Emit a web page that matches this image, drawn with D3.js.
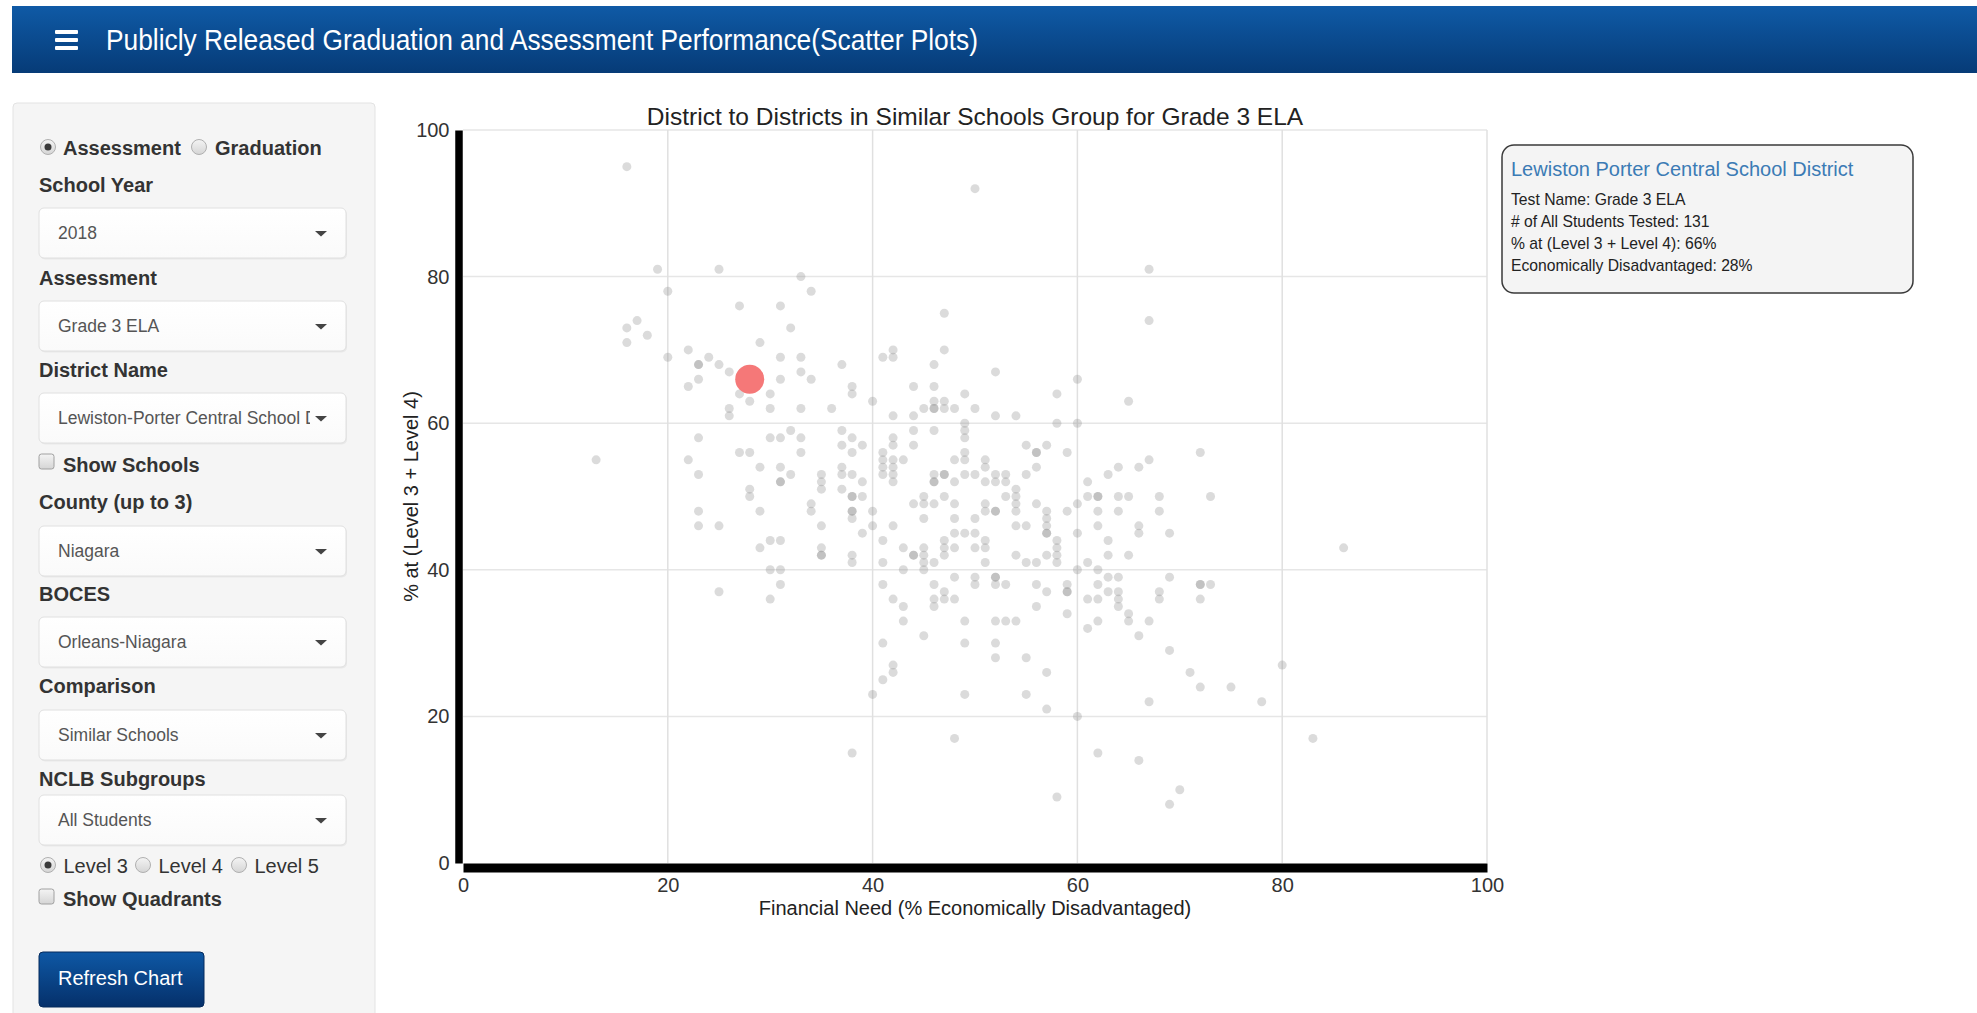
<!DOCTYPE html>
<html><head><meta charset="utf-8">
<script src="https://cdn.jsdelivr.net/npm/d3@7"></script>
<style>
html,body{margin:0;padding:0;background:#fff;overflow:hidden;}
svg text{font-family:"Liberation Sans",Arial,Helvetica,sans-serif;}
</style></head>
<body>
<svg id="page" width="1977" height="1013"></svg>
<script>
// ---------- data ----------
const pageTitle = "Publicly Released Graduation and Assessment Performance(Scatter Plots)";
const chartTitle = "District to Districts in Similar Schools Group for Grade 3 ELA";
const xAxisLabel = "Financial Need (% Economically Disadvantaged)";
const yAxisLabel = "% at (Level 3 + Level 4)";
const xTicks = [0, 20, 40, 60, 80, 100];
const yTicks = [0, 20, 40, 60, 80, 100];

// [% economically disadvantaged, % at level 3 + level 4] for each district in the group
const districtPoints = [
[16,95],[19,81],[20,78],[17,74],[16,73],[18,72],[16,71],[20,69],[13,55],
[50,92],[67,81],[67,74],[47,75],[47,70],[52,67],[60,66],[49,64],[58,64],[65,63],
[25,81],[33,80],[34,78],[27,76],[31,76],[32,73],[29,71],[22,70],[24,69],[31,69],[33,69],[23,68],[23,68],[25,68],[37,68],[41,69],[42,69],[42,70],[46,68],[26,67],[33,67],[22,65],[23,66],[31,66],[34,66],[27,64],[28,63],[30,64],[26,62],[26,61],[30,62],[33,62],[36,62],[38,65],[38,64],[40,63],[42,61],[44,65],[44,61],[45,62],[46,65],[46,63],[46,62],[46,62],[44,59],[46,59],[44,57],[23,58],[30,58],[31,58],[32,59],[33,58],[37,59],[37,57],[38,58],[39,57],[38,56],[41,56],[42,58],[42,57],[22,55],[27,56],[28,56],[33,56],[29,54],[31,54],[23,53],[32,53],[31,52],[31,52],[35,53],[35,52],[35,51],[37,54],[37,53],[38,53],[37,51],[39,52],[38,50],[38,50],[39,50],[28,51],[28,50],[41,55],[42,55],[43,55],[41,54],[42,54],[41,53],[42,53],[42,52],[46,53],[46,52],[45,50],[44,49],[46,49],[23,48],[29,48],[34,49],[34,48],[38,48],[38,48],[40,48],[45,47],
[47,62],[47,63],[48,62],[50,62],[52,61],[54,61],[49,60],[49,59],[49,58],[58,60],[60,60],[55,57],[56,56],[56,56],[57,57],[59,56],[49,56],[49,55],[48,55],[51,55],[51,54],[56,54],[46,52],[47,53],[47,53],[48,52],[49,53],[50,53],[51,52],[52,53],[52,52],[53,53],[53,52],[55,53],[54,51],[54,50],[54,49],[54,48],[53,50],[47,50],[48,49],[51,49],[51,48],[52,48],[52,48],[56,49],[57,48],[59,48],[60,49],[61,52],[61,50],[62,50],[62,50],[64,50],[65,50],[63,53],[64,54],[66,54],[67,55],[62,48],[64,48],[68,50],[68,48],[72,56],[73,50],[45,49],
[23,46],[25,46],[30,44],[31,44],[29,43],[30,40],[31,40],[31,38],[30,36],[25,37],[35,46],[35,43],[35,42],[35,42],[38,47],[39,45],[40,46],[38,42],[38,41],[41,44],[42,46],[43,43],[44,42],[44,42],[45,43],[45,42],[45,41],[45,40],[41,41],[43,40],[46,41],[41,38],[42,36],[43,35],[43,33],[46,38],[46,36],[46,35],[45,31],[41,30],[42,27],[42,26],[41,25],[40,23],[38,15],
[48,47],[50,47],[57,47],[57,46],[57,45],[57,45],[54,46],[55,46],[48,45],[49,45],[50,45],[60,45],[62,46],[66,46],[66,45],[69,45],[47,44],[47,43],[47,42],[48,43],[50,43],[51,44],[51,43],[51,41],[54,42],[55,41],[56,41],[57,42],[58,44],[58,43],[58,42],[58,41],[61,41],[63,44],[63,42],[65,42],[47,37],[47,36],[48,39],[48,36],[50,39],[50,38],[52,39],[52,39],[52,38],[53,38],[56,38],[57,37],[59,38],[59,37],[59,37],[59,34],[56,35],[60,40],[61,36],[62,40],[62,38],[62,36],[62,33],[63,39],[63,37],[64,39],[64,37],[64,36],[64,35],[65,34],[65,33],[61,32],[66,31],[67,33],[68,37],[68,36],[69,39],[69,29],[49,33],[52,33],[53,33],[54,33],[49,30],[52,30],[52,28],[55,28],[57,26],[49,23],[55,23],[57,21],[60,20],[67,22],[48,17],[62,15],[66,14],[58,9],[69,8],[70,10],[71,26],[72,24],
[86,43],[72,38],[72,38],[73,38],[72,36],[80,27],[75,24],[78,22],[83,17]
];

// the selected district
const focusName = "Lewiston Porter Central School District";
const focusNeed = [28];
const focusProficiency = [66];
const focusInfoLines = [
  "Test Name: Grade 3 ELA",
  "# of All Students Tested: 131",
  "% at (Level 3 + Level 4): 66%",
  "Economically Disadvantaged: 28%"
];

// sidebar form
const sidebarLabels = ["School Year","Assessment","District Name","County (up to 3)","BOCES","Comparison","NCLB Subgroups"];
const sidebarValues = ["2018","Grade 3 ELA","Lewiston-Porter Central School District","Niagara","Orleans-Niagara","Similar Schools","All Students"];
const modeOptions = ["Assessment","Graduation"];
const levelOptions = ["Level 3","Level 4","Level 5"];

// ---------- drawing ----------
const svg = d3.select("#page");
const defs = svg.append("defs");

function vGrad(id, c1, c2){
  const g = defs.append("linearGradient").attr("id", id).attr("x1",0).attr("y1",0).attr("x2",0).attr("y2",1);
  g.append("stop").attr("offset","0%").attr("stop-color",c1);
  g.append("stop").attr("offset","100%").attr("stop-color",c2);
}
vGrad("hdrGrad", "#0f5aa6", "#063b77");
vGrad("btnGrad", "#0e58a5", "#05306a");
vGrad("radioGrad", "#f4f4f4", "#d5d5d5");
vGrad("selGrad", "#ffffff", "#fafafa");

// header
svg.append("rect").attr("x",12).attr("y",6).attr("width",1965).attr("height",67).attr("fill","url(#hdrGrad)");
[30, 38, 46].forEach(yy => {
  svg.append("rect").attr("x",55).attr("y",yy).attr("width",23).attr("height",4).attr("rx",1).attr("fill","#fff");
});
svg.append("text").attr("x",106).attr("y",50).attr("fill","#fff").attr("font-size",29)
  .attr("textLength",872).attr("lengthAdjust","spacingAndGlyphs").text(pageTitle);

// sidebar panel
svg.append("rect").attr("x",13).attr("y",103).attr("width",362).attr("height",940).attr("rx",4)
  .attr("fill","#f5f5f5").attr("stroke","#e3e3e3").attr("stroke-width",1);

function radio(cx, cy, checked){
  svg.append("circle").attr("cx",cx).attr("cy",cy).attr("r",7.5).attr("fill","url(#radioGrad)").attr("stroke","#b0b0b0");
  if (checked) svg.append("circle").attr("cx",cx).attr("cy",cy).attr("r",3.5).attr("fill","#3a3a3a");
}
function checkbox(x, y){
  svg.append("rect").attr("x",x).attr("y",y).attr("width",15).attr("height",15).attr("rx",2.5)
    .attr("fill","url(#radioGrad)").attr("stroke","#a0a0a0");
}
const labelStyle = s => s.attr("font-size",20).attr("font-weight","bold").attr("fill","#333");

// mode radios
radio(48,147,true);
labelStyle(svg.append("text").attr("x",63).attr("y",155).text(modeOptions[0]));
radio(199,147,false);
labelStyle(svg.append("text").attr("x",215).attr("y",155).text(modeOptions[1]));

const labelBase = [192,285,377,509,601,693,786];
const selectTop = [208,301,393,526,617,710,795];
defs.append("clipPath").attr("id","selClip").append("rect").attr("x",39).attr("y",0).attr("width",271).attr("height",1013);
sidebarLabels.forEach((lab,i) => {
  labelStyle(svg.append("text").attr("x",39).attr("y",labelBase[i]).text(lab));
  const top = selectTop[i];
  svg.append("rect").attr("x",40).attr("y",top+1.5).attr("width",307).attr("height",50).attr("rx",5).attr("fill","#e9e9e9");
  svg.append("rect").attr("x",39).attr("y",top).attr("width",307).attr("height",50).attr("rx",5)
    .attr("fill","url(#selGrad)").attr("stroke","#e0e0e0");
  svg.append("text").attr("x",58).attr("y",top+31).attr("font-size",17.5).attr("fill","#555")
    .attr("clip-path","url(#selClip)").text(sidebarValues[i]);
  svg.append("path").attr("d",`M315,${top+23}L327,${top+23}L321,${top+28.5}Z`).attr("fill","#444");
});

// show schools checkbox
checkbox(39,454);
labelStyle(svg.append("text").attr("x",63).attr("y",472).text("Show Schools"));

// level radios
const levelX = [48,143,239];
levelOptions.forEach((lv,i) => {
  radio(levelX[i],865,i===0);
  svg.append("text").attr("x",levelX[i]+15.5).attr("y",873).attr("font-size",20).attr("fill","#333").text(lv);
});
checkbox(39,889);
labelStyle(svg.append("text").attr("x",63).attr("y",906).text("Show Quadrants"));

// button
svg.append("rect").attr("x",39).attr("y",952).attr("width",165).attr("height",55).attr("rx",4)
  .attr("fill","url(#btnGrad)").attr("stroke","#042a5c");
svg.append("text").attr("x",58).attr("y",985).attr("font-size",20).attr("fill","#fff").text("Refresh Chart");

// ---------- chart ----------
const x = d3.scaleLinear().domain([0,100]).range([463,1487]);
const y = d3.scaleLinear().domain([0,100]).range([863,130]);

const grid = svg.append("g");
grid.selectAll("line.h").data(yTicks.filter(t=>t>0)).join("line").attr("class","h")
  .attr("x1",x(0)).attr("x2",x(100)).attr("y1",d=>y(d)).attr("y2",d=>y(d))
  .attr("stroke","#e6e6e6").attr("stroke-width",1.5);
grid.selectAll("line.v").data(xTicks.filter(t=>t>0)).join("line").attr("class","v")
  .attr("y1",y(0)).attr("y2",y(100)).attr("x1",d=>x(d)).attr("x2",d=>x(d))
  .attr("stroke","#e0e0e0").attr("stroke-width",1.5);

const yAxis = svg.append("g").attr("transform","translate(458.5,0)")
  .call(d3.axisLeft(y).tickValues(yTicks).tickSize(0).tickSizeOuter(0).tickPadding(9));
yAxis.select(".domain").attr("stroke","#000").attr("stroke-width",7.5);
yAxis.selectAll("text").attr("font-size",20).attr("fill","#333").attr("font-family","Liberation Sans, Arial, sans-serif");

const xAxis = svg.append("g").attr("transform","translate(0,867.5)")
  .call(d3.axisBottom(x).tickValues(xTicks).tickSize(0).tickSizeOuter(0).tickPadding(10));
xAxis.select(".domain").attr("stroke","#000").attr("stroke-width",9);
xAxis.selectAll("text").attr("font-size",20).attr("fill","#333").attr("font-family","Liberation Sans, Arial, sans-serif");

svg.append("text").attr("x",975).attr("y",125).attr("text-anchor","middle").attr("font-size",24.5)
  .attr("fill","#222").text(chartTitle);
svg.append("text").attr("x",975).attr("y",915).attr("text-anchor","middle").attr("font-size",20)
  .attr("fill","#222").text(xAxisLabel);
svg.append("text").attr("transform","translate(418,496.5) rotate(-90)").attr("text-anchor","middle")
  .attr("font-size",20).attr("fill","#222").text(yAxisLabel);

// dots
svg.append("g").selectAll("circle").data(districtPoints).join("circle")
  .attr("cx",d=>x(d[0])).attr("cy",d=>y(d[1])).attr("r",4.5)
  .attr("fill","#8a8a8a").attr("fill-opacity",0.31);

svg.append("g").selectAll("circle").data(focusNeed).join("circle")
  .attr("cx",(d,i)=>x(d)).attr("cy",(d,i)=>y(focusProficiency[i])).attr("r",14.5)
  .attr("fill","#f57878");

// info box
svg.append("rect").attr("x",1502).attr("y",145).attr("width",411).attr("height",148).attr("rx",12)
  .attr("fill","#f4f4f4").attr("stroke","#3a3a3a").attr("stroke-width",1.5);
svg.append("text").attr("x",1511).attr("y",176).attr("font-size",20).attr("fill","#3b7bb5").text(focusName);
svg.append("g").selectAll("text").data(focusInfoLines).join("text")
  .attr("x",1511).attr("y",(d,i)=>205+i*22).attr("font-size",15.7).attr("fill","#222").text(d=>d);
</script>
</body></html>
